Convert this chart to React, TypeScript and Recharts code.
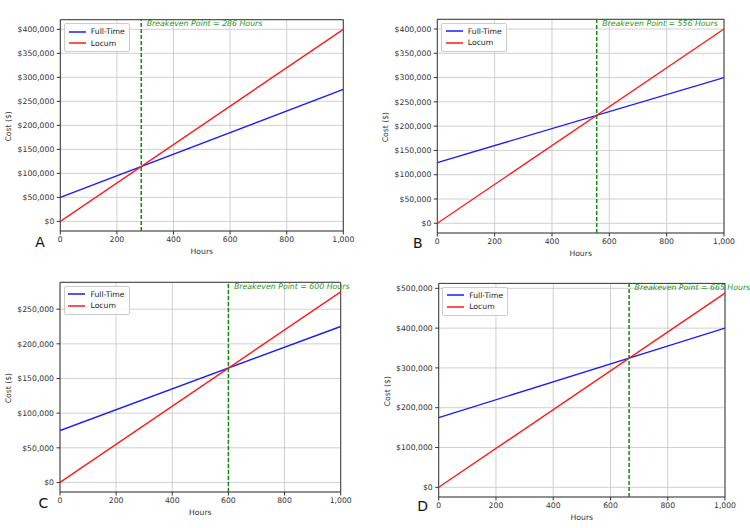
import React from 'react';
import {
  LineChart,
  Line,
  XAxis,
  YAxis,
  CartesianGrid,
  ReferenceLine,
  ReferenceArea,
  ReferenceDot,
  Legend,
} from 'recharts';

// ---------- data ----------
const hours = [0, 1000];
const xTicks = [0, 200, 400, 600, 800, 1000];

const fullTimeA = [50000, 275000];
const locumA = [0, 400000];
const breakevenA = 286;

const fullTimeB = [125000, 300000];
const locumB = [0, 400000];
const breakevenB = 556;

const fullTimeC = [75000, 225000];
const locumC = [0, 275000];
const breakevenC = 600;

const fullTimeD = [175000, 400000];
const locumD = [0, 488000];
const breakevenD = 665;

const yTicksAB = [0, 50000, 100000, 150000, 200000, 250000, 300000, 350000, 400000];
const yTicksC = [0, 50000, 100000, 150000, 200000, 250000];
const yTicksD = [0, 100000, 200000, 300000, 400000, 500000];

const seriesNames = ['Full-Time', 'Locum'];
const panelLetters = ['A', 'B', 'C', 'D'];
const xLabel = 'Hours';
const yLabel = 'Cost ($)';

// ---------- styling ----------
const FONT = "'DejaVu Sans', sans-serif";
const TICK_FS = 7.7;
const YW = 56;
const XH = 28;
const seriesColors = ['#1a1aff', '#ff1a1a'];

type Box = { left: number; right: number; top: number; bottom: number };
type Region = { x: number; y: number; w: number; h: number };

function LegendBox() {
  return (
    <div
      style={{
        border: '1px solid #cccccc',
        borderRadius: 2,
        background: 'rgba(255,255,255,0.85)',
        padding: '1.5px 4px 2px 3.5px',
        fontFamily: FONT,
        fontSize: TICK_FS,
        color: '#222',
        boxSizing: 'border-box',
      }}
    >
      {seriesNames.map((name, i) => (
        <div key={name} style={{ display: 'flex', alignItems: 'center', height: 11.6, whiteSpace: 'nowrap' }}>
          <svg width={17} height={4} style={{ marginRight: 5.3, display: 'block' }}>
            <line x1={0} y1={2} x2={17} y2={2} stroke={seriesColors[i]} strokeWidth={1.5} />
          </svg>
          <span>{name}</span>
        </div>
      ))}
    </div>
  );
}

function Panel({
  region,
  box,
  fullTime,
  locum,
  breakeven,
  yTicks,
}: {
  region: Region;
  box: Box;
  fullTime: number[];
  locum: number[];
  breakeven: number;
  yTicks: number[];
}) {
  const data = hours.map((h, i) => ({ hours: h, fullTime: fullTime[i], locum: locum[i] }));
  const all = [...fullTime, ...locum];
  const lo = Math.min(...all);
  const hi = Math.max(...all);
  const pad = (hi - lo) * 0.05;
  const domain: [number, number] = [lo - pad, hi + pad];
  const margin = {
    top: box.top - region.y,
    left: box.left - region.x - YW,
    right: region.x + region.w - box.right,
    bottom: region.y + region.h - box.bottom - XH,
  };
  const locumMax = Math.max(...locum);

  return (
    <div style={{ position: 'absolute', left: region.x, top: region.y, width: region.w, height: region.h }}>
      <LineChart width={region.w} height={region.h} data={data} margin={margin}>
        <CartesianGrid stroke="#c4c4c4" strokeWidth={0.8} />
        <XAxis
          dataKey="hours"
          type="number"
          domain={[0, 1000]}
          ticks={xTicks}
          interval={0}
          allowDataOverflow
          height={XH}
          axisLine={false}
          tickLine={{ stroke: '#333' }}
          tickSize={3.5}
          tickMargin={2}
          tick={{ fill: '#333', fontSize: TICK_FS, fontFamily: FONT }}
          tickFormatter={(v: number) => v.toLocaleString('en-US')}
          label={{
            content: (p: any) => {
              const vb = p.viewBox || {};
              return (
                <text
                  x={vb.x + vb.width / 2}
                  y={vb.y + 20}
                  textAnchor="middle"
                  dominantBaseline="central"
                  fill="#333"
                  fontSize={TICK_FS}
                  fontFamily={FONT}
                >
                  {xLabel}
                </text>
              );
            },
          }}
        />
        <YAxis
          type="number"
          domain={domain}
          ticks={yTicks}
          interval={0}
          allowDataOverflow
          width={YW}
          axisLine={false}
          tickLine={{ stroke: '#333' }}
          tickSize={3.5}
          tickMargin={2.5}
          tick={{ fill: '#333', fontSize: TICK_FS, fontFamily: FONT }}
          tickFormatter={(v: number) => '$' + v.toLocaleString('en-US')}
          label={{
            content: (p: any) => {
              const vb = p.viewBox || {};
              const cx = vb.x + vb.width - 51.5;
              const cy = vb.y + vb.height / 2 + 1;
              return (
                <text
                  x={cx}
                  y={cy}
                  transform={`rotate(-90 ${cx} ${cy})`}
                  textAnchor="middle"
                  dominantBaseline="central"
                  fill="#333"
                  fontSize={TICK_FS}
                  fontFamily={FONT}
                >
                  {yLabel}
                </text>
              );
            },
          }}
        />
        <Line
          dataKey="fullTime"
          name={seriesNames[0]}
          stroke={seriesColors[0]}
          strokeWidth={1.4}
          dot={false}
          activeDot={false}
          isAnimationActive={false}
        />
        <Line
          dataKey="locum"
          name={seriesNames[1]}
          stroke={seriesColors[1]}
          strokeWidth={1.4}
          dot={false}
          activeDot={false}
          isAnimationActive={false}
        />
        <ReferenceLine x={breakeven} stroke="#138a13" strokeWidth={1.5} strokeDasharray="4 2" />
        <ReferenceArea
          x1={0}
          x2={1000}
          y1={domain[0]}
          y2={domain[1]}
          fill="none"
          fillOpacity={0}
          stroke="#3a3a3a"
          strokeWidth={1}
          ifOverflow="visible"
        />
        <ReferenceDot
          x={breakeven}
          y={locumMax}
          r={0}
          fill="none"
          stroke="none"
          ifOverflow="visible"
          label={{
            content: (p: any) => {
              const vb = p.viewBox || {};
              return (
                <text
                  x={vb.x + 5.5}
                  y={vb.y - 3}
                  fill="#1e9a1e"
                  fontStyle="italic"
                  fontSize={7.8}
                  fontFamily={FONT}
                >
                  {`Breakeven Point = ${breakeven} Hours`}
                </text>
              );
            },
          }}
        />
        <Legend
          layout="horizontal"
          verticalAlign="middle"
          align="center"
          wrapperStyle={{
            left: box.left - region.x + 3.7,
            top: box.top - region.y + 3.7,
            width: 'auto',
            height: 'auto',
            right: 'auto',
            bottom: 'auto',
          }}
          content={() => <LegendBox />}
        />
      </LineChart>
    </div>
  );
}

const letterStyle = (x: number, y: number): React.CSSProperties => ({
  position: 'absolute',
  left: x,
  top: y,
  transform: 'translate(-50%, -50%)',
  fontFamily: FONT,
  fontSize: 14,
  color: '#111',
  lineHeight: 1,
});

export default function App() {
  return (
    <div
      style={{
        position: 'absolute',
        left: 0,
        top: 0,
        width: 750,
        height: 528,
        background: '#fff',
        overflow: 'hidden',
        fontFamily: FONT,
      }}
    >
      <Panel
        region={{ x: 0, y: 0, w: 375, h: 264 }}
        box={{ left: 60.3, right: 343.3, top: 19.7, bottom: 231 }}
        fullTime={fullTimeA}
        locum={locumA}
        breakeven={breakevenA}
        yTicks={yTicksAB}
      />
      <Panel
        region={{ x: 375, y: 0, w: 375, h: 264 }}
        box={{ left: 437.3, right: 724, top: 19.3, bottom: 233 }}
        fullTime={fullTimeB}
        locum={locumB}
        breakeven={breakevenB}
        yTicks={yTicksAB}
      />
      <Panel
        region={{ x: 0, y: 264, w: 375, h: 264 }}
        box={{ left: 60, right: 340.7, top: 282.3, bottom: 492 }}
        fullTime={fullTimeC}
        locum={locumC}
        breakeven={breakevenC}
        yTicks={yTicksC}
      />
      <Panel
        region={{ x: 375, y: 264, w: 375, h: 264 }}
        box={{ left: 438.7, right: 725, top: 283.4, bottom: 497 }}
        fullTime={fullTimeD}
        locum={locumD}
        breakeven={breakevenD}
        yTicks={yTicksD}
      />
      <div style={letterStyle(40, 242.3)}>{panelLetters[0]}</div>
      <div style={letterStyle(417.7, 242.7)}>{panelLetters[1]}</div>
      <div style={letterStyle(43.3, 503)}>{panelLetters[2]}</div>
      <div style={letterStyle(422.7, 506.3)}>{panelLetters[3]}</div>
    </div>
  );
}
